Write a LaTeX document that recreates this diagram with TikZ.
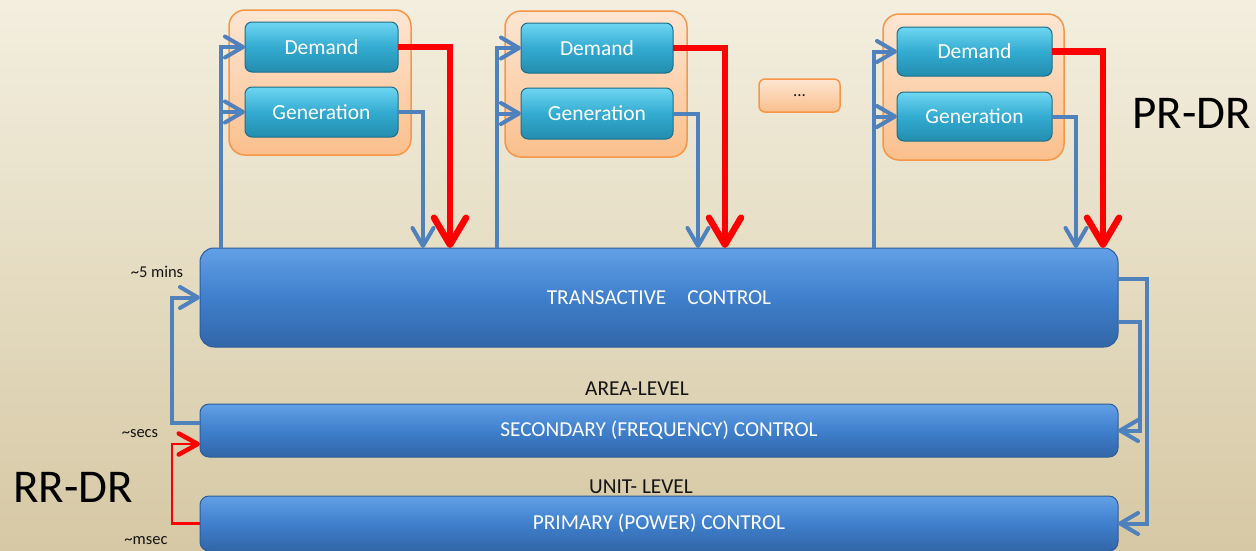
\documentclass[tikz,border=0pt]{standalone}
\usepackage{fontspec}
\setmainfont{Carlito}
\usetikzlibrary{arrows.meta,calc}

\definecolor{bgtop}{HTML}{F3EFDF}
\definecolor{bgbot}{HTML}{D6C8A4}
\definecolor{bluebox}{HTML}{3F7FCC}
\definecolor{blueboxl}{HTML}{62A0E6}
\definecolor{blueboxd}{HTML}{3266A8}
\definecolor{blueedge}{HTML}{2E5C96}
\definecolor{tealm}{HTML}{33ABD1}
\definecolor{teall}{HTML}{6ED6F2}
\definecolor{teald}{HTML}{238DAE}
\definecolor{tealedge}{HTML}{1D6F88}
\definecolor{orfill1}{HTML}{FDE6D3}
\definecolor{orfill2}{HTML}{FBBF8C}
\definecolor{orline}{HTML}{F79646}
\definecolor{conn}{HTML}{4F81BD}
\definecolor{redc}{HTML}{FF0000}
\definecolor{darktext}{HTML}{141414}

\tikzset{
  grpbox/.style={rounded corners=16pt, draw=orline, line width=1.5pt,
    top color=orfill1, bottom color=orfill2, outer sep=0pt, inner sep=0pt,
    anchor=north west},
  morebox/.style={rounded corners=6pt, draw=orline, line width=1.5pt,
    top color=orfill1, bottom color=orfill2, outer sep=0pt, inner sep=0pt,
    anchor=north west, text=darktext, font=\fontsize{17}{17}\selectfont},
  tealbox/.style={rounded corners=7pt, draw=tealedge, line width=1pt,
    top color=teall, bottom color=teald, middle color=tealm,
    text=white, font=\fontsize{21.5}{21.5}\selectfont,
    outer sep=0pt, inner sep=0pt, anchor=north west},
  bigbox/.style={rounded corners=14pt, draw=blueedge, line width=1pt,
    top color=blueboxl, bottom color=blueboxd, middle color=bluebox,
    text=white, font=\fontsize{21.3}{21.3}\selectfont,
    outer sep=0pt, inner sep=0pt, anchor=north west},
  barbox/.style={bigbox, rounded corners=9pt},
  bluearrow/.style={draw=conn, line width=4pt,
    -{Straight Barb[length=18pt, width=21pt, round]}},
  redarrow/.style={draw=redc, line width=6.5pt,
    -{Straight Barb[length=27pt, width=32pt, round]}},
  redthin/.style={draw=redc, line width=2.5pt,
    -{Straight Barb[length=19pt, width=21pt, round, line width=4.5pt]}},
  darklabel/.style={text=darktext, font=\fontsize{21.3}{21.3}\selectfont, inner sep=0pt},
  smalllabel/.style={text=darktext, font=\fontsize{16.5}{16.5}\selectfont, inner sep=0pt},
  biglabel/.style={text=black, font=\fontsize{47}{47}\selectfont, inner sep=0pt},
}

\begin{document}
\begin{tikzpicture}[x=1pt,y=-1pt]
\useasboundingbox (0,0) rectangle (1256,550);
\shade[top color=bgtop, bottom color=bgbot] (0,0) rectangle (1256,550);

% main control bars
\node[bigbox, minimum width=918pt, minimum height=99pt] (trans) at (200,248)
  {TRANSACTIVE\hspace{21pt}CONTROL};
\node[barbox, minimum width=918pt, minimum height=53pt] (sec) at (200,404)
  {SECONDARY (FREQUENCY) CONTROL};
\node[barbox, minimum width=918pt, minimum height=55pt] (prim) at (200,496)
  {PRIMARY (POWER) CONTROL};

% groups
\node[grpbox, minimum width=182pt, minimum height=145pt] (grp1) at (229,10) {};
\node[tealbox, minimum width=153pt, minimum height=50pt] (dem1) at (245,22) {Demand};
\node[tealbox, minimum width=153pt, minimum height=50pt] (gen1) at (245,87) {Generation};

\node[grpbox, minimum width=182pt, minimum height=146pt] (grp2) at (505,11) {};
\node[tealbox, minimum width=152pt, minimum height=50pt] (dem2) at (521,23) {Demand};
\node[tealbox, minimum width=152pt, minimum height=51pt] (gen2) at (521,88) {Generation};

\node[morebox, minimum width=81pt, minimum height=33pt] (more) at (759,79) {...};

\node[grpbox, minimum width=181pt, minimum height=146pt] (grp3) at (883,14) {};
\node[tealbox, minimum width=155pt, minimum height=49pt] (dem3) at (897,27) {Demand};
\node[tealbox, minimum width=155pt, minimum height=49pt] (gen3) at (897,92) {Generation};

% column coordinates
\coordinate (l1) at (221,0);
\coordinate (b1) at (423,0);
\coordinate (r1) at (450,0);
\coordinate (l2) at (497,0);
\coordinate (b2) at (698,0);
\coordinate (r2) at (725,0);
\coordinate (l3) at (874,0);
\coordinate (b3) at (1076,0);
\coordinate (r3) at (1103,0);
\coordinate (ra) at (1147,400);
\coordinate (rb) at (1140,400);
\coordinate (la) at (172,350);
\coordinate (lb) at (172,480);

% feeds from transactive control up to the groups
\draw[bluearrow] (trans.north -| l1) |- (dem1.west);
\draw[bluearrow] (trans.north -| l1) |- (gen1.west);
\draw[bluearrow] (trans.north -| l2) |- (dem2.west);
\draw[bluearrow] (trans.north -| l2) |- (gen2.west);
\draw[bluearrow] (trans.north -| l3) |- (dem3.west);
\draw[bluearrow] (trans.north -| l3) |- (gen3.west);

% generation returns
\draw[bluearrow] (gen1.east) -| (trans.north -| b1);
\draw[bluearrow] (gen2.east) -| (trans.north -| b2);
\draw[bluearrow] (gen3.east) -| (trans.north -| b3);

% demand returns (price responsive)
\draw[redarrow] (dem1.east) -| (trans.north -| r1);
\draw[redarrow] (dem2.east) -| (trans.north -| r2);
\draw[redarrow] (dem3.east) -| (trans.north -| r3);

% right side connectors
\draw[bluearrow] ([yshift=18.5pt]trans.east) -| (ra) |- (prim.east);
\draw[bluearrow] ([yshift=-24.5pt]trans.east) -| (rb) |- (sec.east);

% left side connectors
\draw[bluearrow] ([yshift=7.5pt]sec.west) -| (la) |- (trans.west);
\draw[redthin] (prim.west) -| (lb) |- ([yshift=-13.5pt]sec.west);

% labels
\node[darklabel] (area) at (637,388.5) {AREA-LEVEL};
\node[darklabel] (unit) at (641,487) {UNIT- LEVEL};
\node[smalllabel] (t5) at (157,272) {\textasciitilde5 mins};
\node[smalllabel] (tsec) at (140,434) {\textasciitilde secs};
\node[smalllabel] (tmsec) at (146,541) {\textasciitilde msec};
\node[biglabel] (prdr) at (1192,113) {PR-DR};
\node[biglabel] (rrdr) at (73,487) {RR-DR};
\end{tikzpicture}
\end{document}
